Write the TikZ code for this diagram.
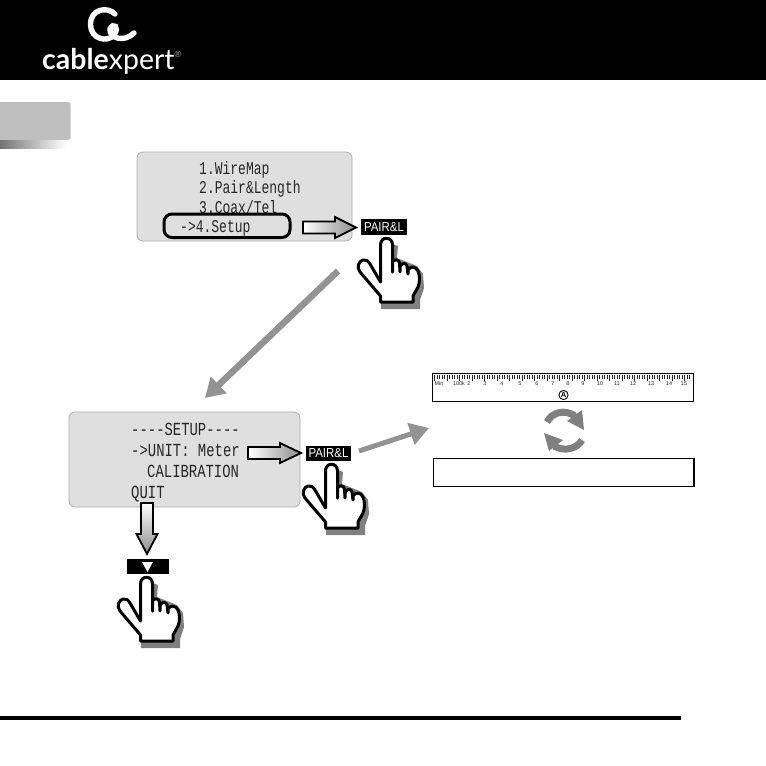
\documentclass[tikz,border=0pt]{standalone}
\usepackage{fontspec}
\usepackage{graphicx}
\setmainfont{Liberation Sans}
\newfontfamily\lcdfont{Liberation Mono}
\newfontfamily\logofont{Lato}
\usetikzlibrary{arrows.meta,shadings}
\definecolor{lcdfill}{gray}{0.875}
\definecolor{lcdedge}{gray}{0.68}
\definecolor{midgrey}{gray}{0.5}
\newcommand{\lcdmenu}[1]{\scalebox{1}[1.38]{\lcdfont\fontsize{13}{14}\selectfont #1}}
\newcommand{\lcdsetup}[1]{\scalebox{.98}[1.3]{\lcdfont\fontsize{14.2}{15}\selectfont #1}}
\newcommand{\keytext}{\scalebox{.88}[1]{PAIR\&L}}
\tikzset{
 x=1pt,y=-1pt,
 lcdbox/.style={draw=lcdedge,fill=lcdfill,line width=.8pt,rounded corners=6pt},
 lcdtext/.style={anchor=base west,inner sep=0pt,text=black!85},
 keylabel/.style={fill=black,text=white,font=\fontsize{13}{14}\selectfont,inner sep=0pt,minimum height=15.5pt},
 blockarrow/.style={draw=black,line width=1.8pt,line join=miter,left color=white,right color=black!45},
 bigarrow/.style={draw=midgrey!85,line width=6.5pt,-{Triangle[length=19pt,width=22pt]}},
 cyclearc/.style={draw=midgrey,line width=7pt},
 frame/.style={draw=black,line width=1.5pt,fill=white},
 pics/hand/.style={code={
  \path[fill=midgrey] (-6,52) -- (-6,71) -- (33,71) -- (33,62) -- (37,50) -- (36,36) -- (30,28) -- (10,20) -- (11,8) -- (6,6) -- cycle;
  \draw[fill=white,line width=3pt,line join=round]
   (-6.5,44) -- (-6.5,7) .. controls (-6.5,-2) and (5.5,-2) .. (5.5,7) -- (5.5,34)
   -- (5.5,24) .. controls (7,21) and (12,21) .. (12.5,25) -- (13,34)
   -- (13,29) .. controls (14,25) and (19,24) .. (20,28) -- (21,36)
   -- (21,32) .. controls (23,28) and (29,28) .. (31,33)
   .. controls (33,38) and (33,44) .. (31,49) -- (26,58) -- (26,64) -- (-6.5,64) -- (-6.5,58)
   -- (-27,34) .. controls (-31,29) and (-28,23) .. (-24,22) .. controls (-21,21) and (-19,23) .. (-17,26) -- cycle;
 }}
}
\begin{document}
\begin{tikzpicture}
\useasboundingbox (0,0) rectangle (766,766);
\fill[white] (0,0) rectangle (766,766);
% header
\fill[black] (0,0) rectangle (766,80);
\draw[white,line width=5.4pt,line cap=round] (115,14) .. controls (107,6) and (90,9) .. (90.5,25)
 .. controls (91,39) and (107,43) .. (114,35) .. controls (120,27) and (113,22) .. (110,29)
 .. controls (109,38) and (124,43) .. (134,33);
\node[inner sep=0pt,anchor=base west,text=white] (logotext) at (42,69.5)
 {\logofont\fontsize{28.5}{29}\selectfont \textbf{cable}xpert};
\node[inner sep=0pt,text=white!70!black,font=\fontsize{9}{9}\selectfont] (logoreg) at (178,54) {®};
% tab
\fill[black!25,rounded corners=2.5pt] (-6,102) rectangle (70.5,140);
\shade[left color=black!55,right color=white] (0,140.5) rectangle (66,148);
% menu
\path[lcdbox] (137,152) rectangle (352,241);
\node[lcdtext] (m1) at (199,174) {\lcdmenu{1.WireMap}};
\node[lcdtext] (m2) at (199,193) {\lcdmenu{2.Pair\&Length}};
\node[lcdtext] (m3) at (199,213) {\lcdmenu{3.Coax/Tel}};
\node[lcdtext] (m4) at (180,232) {\lcdmenu{->4.Setup}};
\draw[black,line width=3pt,rounded corners=8pt] (164,214) rectangle (290,237.5);
\path[blockarrow] (303,221.5) -- (335,221.5) -- (335,217) -- (356,227.5) -- (335,238) -- (335,233.5) -- (303,233.5) -- cycle;
\node[keylabel,minimum width=46pt] (key1) at (384,227) {\keytext};
\pic at (387,238) {hand};
% diagonal arrow
\coordinate (d1) at (338,271);
\coordinate (d2) at (205,398);
\draw[bigarrow] (d1) -- (d2);
% setup
\path[lcdbox] (69,412) rectangle (300,507);
\node[lcdtext] (s1) at (131,435) {\lcdsetup{----SETUP----}};
\node[lcdtext] (s2) at (131,456) {\lcdsetup{->UNIT: Meter}};
\node[lcdtext] (s3) at (147,477) {\lcdsetup{CALIBRATION}};
\node[lcdtext] (s4) at (131,498) {\lcdsetup{QUIT}};
\path[blockarrow] (248,447) -- (280,447) -- (280,443) -- (301,453) -- (280,463) -- (280,459) -- (248,459) -- cycle;
\node[keylabel,minimum width=45pt] (key2) at (328.5,453.5) {\keytext};
\pic at (332,464) {hand};
% down arrow
\path[draw=black,line width=1.8pt,top color=white,bottom color=black!45]
 (141,503) -- (153,503) -- (153,534) -- (157.5,534) -- (147,554) -- (136.5,534) -- (141,534) -- cycle;
\node[fill=black,minimum width=42pt,minimum height=15pt,inner sep=0pt] (key3) at (148,566.5) {};
\fill[white] (142,562) -- (153,562) -- (147.5,572) -- cycle;
\pic at (147,577) {hand};
% right arrow
\coordinate (r1) at (359,451);
\coordinate (r2) at (429,428);
\draw[bigarrow,line width=5pt] (r1) -- (r2);
% ruler
\path[frame] (432.5,373.5) rectangle (693.5,401.5);
\foreach \i in {0,...,102}{\draw[black!85,line width=.7pt] ({434.5+2.5*\i},375) -- ({434.5+2.5*\i},{mod(\i,5)==0?381:379});}
\foreach \lab/\px in {Min/439,100k/459,2/469,3/485,4/502,5/520,6/537,7/553,8/568,9/583,10/600,11/617,12/633,13/651,14/669,15/684}
 {\node[inner sep=0pt,text=black!85,font=\fontsize{5.5}{6}\selectfont] at (\px,383.5) {\lab};}
\draw[black,line width=.9pt] (563.5,395) circle (4.6pt);
\node[inner sep=0pt,font=\bfseries\fontsize{7.5}{8}\selectfont] (rulerA) at (563.5,395) {A};
% cycle
\draw[cyclearc] (547,422) .. controls (552,412) and (565,409) .. (575,416);
\fill[midgrey] (567,421) -- (582,410) -- (584,430) -- cycle;
\draw[cyclearc] (582,440) .. controls (577,449) and (564,452) .. (554,446);
\fill[midgrey] (563,440) -- (544,433) -- (549,451) -- cycle;
% lower frame
\path[frame] (433.5,458.5) rectangle (694,486.5);
% footer rule
\fill[black] (0,716) rectangle (681,719.5);
\end{tikzpicture}
\end{document}
